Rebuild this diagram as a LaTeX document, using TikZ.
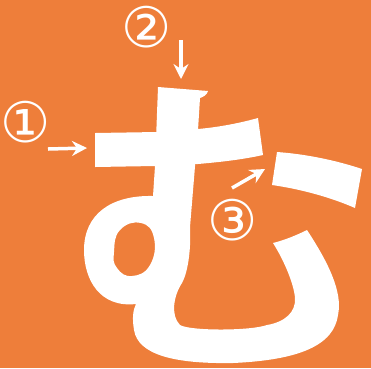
\documentclass[tikz,border=0pt]{standalone}
\usepackage{fontspec}
\newfontfamily\symfont{DejaVu Sans}
\usetikzlibrary{arrows.meta}
\definecolor{bgorange}{RGB}{238,126,58}
\tikzset{
  glyph/.style={fill=white, draw=none},
  numlabel/.style={text=white, font=\symfont\fontsize{56}{56}\selectfont, inner sep=0pt},
  pointer/.style={draw=white, line width=3.5pt, -{Stealth[length=15pt,width=15pt,inset=5pt]}}
}
\begin{document}
\begin{tikzpicture}[x=1pt,y=-1pt]
\fill[bgorange] (0,0) rectangle (371,368);
\useasboundingbox (0,0) rectangle (371,368);
% stroke 1
\fill[glyph] (95,133) -- (157,132) -- (198,129) .. controls (220,127) and (240,123) .. (258,118) -- (263,155) .. controls (240,160) and (220,162) .. (198,164) -- (155,166) -- (95,167) -- cycle;
% stroke 2 with loop
\fill[glyph, even odd rule] (158,87) -- (208,91) .. controls (207,95) and (203,97) .. (200,98) -- (198,130) -- (190,227)
  .. controls (191,245) and (189,270) .. (182,283)
  .. controls (174,295) and (170,315) .. (180,325)
  .. controls (190,331) and (250,331) .. (267,325)
  .. controls (285,322) and (296,312) .. (295,298)
  .. controls (294,285) and (285,262) .. (273,243)
  .. controls (285,240) and (297,235) .. (307,230)
  .. controls (328,262) and (343,292) .. (338,315)
  .. controls (334,345) and (300,360) .. (233,363)
  .. controls (175,364) and (138,355) .. (134,330)
  .. controls (132,318) and (133,310) .. (136,304)
  .. controls (100,308) and (84,280) .. (84,250)
  .. controls (84,215) and (110,195) .. (153,196) -- (155,166) -- cycle
  plot[smooth cycle, tension=0.8] coordinates {(114,252) (120,230) (141,223) (154,238) (150,265) (132,276) (117,268)};
% stroke 3
\fill[glyph] (277,152) .. controls (305,154) and (335,160) .. (362,169) -- (355,208) .. controls (330,197) and (300,189) .. (272,185) -- cycle;
% labels
\node[numlabel] (n1) at (26,122) {①};
\node[numlabel] (n2) at (147,27) {②};
\node[numlabel] (n3) at (233,220) {③};
% arrows
\coordinate (a1s) at (48,149); \coordinate (a1e) at (87,148);
\coordinate (a2s) at (181,40); \coordinate (a2e) at (181,79);
\coordinate (a3s) at (232,188); \coordinate (a3e) at (265,169);
\draw[pointer] (a1s) -- (a1e);
\draw[pointer] (a2s) -- (a2e);
\draw[pointer] (a3s) -- (a3e);
\end{tikzpicture}
\end{document}
